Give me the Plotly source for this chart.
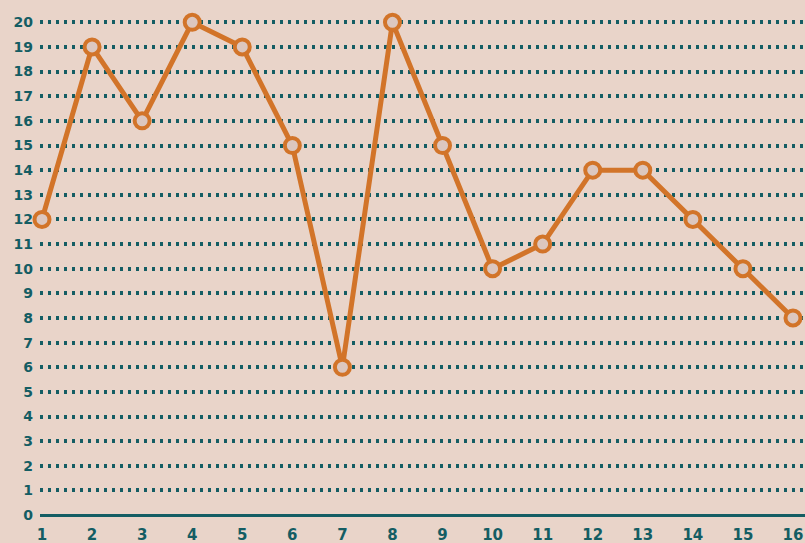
import plotly.graph_objects as go

x_vals = list(range(1, 17))
y_vals = [12, 19, 16, 20, 19, 15, 6, 20, 15, 10, 11, 14, 14, 12, 10, 8]
y_ticks = list(range(0, 21))

bg = "#e9d4c9"
teal = "#145d63"
orange = "#d27429"

fig = go.Figure()
fig.add_trace(go.Scatter(
    x=x_vals, y=y_vals, mode="lines+markers",
    line=dict(color=orange, width=5),
    marker=dict(size=15, color="#dcc7bf", line=dict(color=orange, width=4)),
    cliponaxis=False, showlegend=False,
))

fig.update_layout(
    width=805, height=543,
    paper_bgcolor=bg, plot_bgcolor=bg,
    margin=dict(l=40, r=0, t=10, b=23, autoexpand=False),
    font=dict(family="DejaVu Sans", color=teal, size=14),
)
fig.update_xaxes(
    range=[0.96, 16.24], tickvals=x_vals, ticktext=[str(v) for v in x_vals],
    showgrid=False, zeroline=False, showline=False, ticks="", automargin=False,
    tickfont=dict(size=15, color=teal, family="DejaVu Sans", weight="bold"),
    ticklabelstandoff=4,
)
fig.update_yaxes(
    range=[-0.2, 20.5], tickvals=y_ticks, ticktext=[str(v) for v in y_ticks],
    showgrid=True, gridcolor=teal, gridwidth=3.5, griddash="3px,5px",
    zeroline=True, zerolinecolor=teal, zerolinewidth=3,
    showline=False, ticks="", automargin=False,
    tickfont=dict(size=14, color=teal, family="DejaVu Sans", weight="bold"),
    ticklabelstandoff=6,
)

fig.write_html(
    "out.html",
    config={"displayModeBar": False},
    post_script="document.body.style.margin='0';document.body.style.background='%s';" % bg,
)
